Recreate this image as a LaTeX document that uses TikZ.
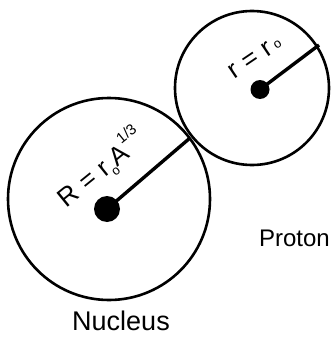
\documentclass[tikz,border=0pt]{standalone}
\usepackage{fontspec}
\setmainfont{Liberation Sans}
\begin{document}
\begin{tikzpicture}[x=1pt,y=-1pt,
  ring/.style={line width=2.6pt},
  spoke/.style={line width=3.4pt},
  dot/.style={circle,fill=black,inner sep=0pt},
  lbl/.style={font=\fontsize{26}{30}\selectfont, inner sep=0pt}]
\useasboundingbox (0,0) rectangle (330,337);
\coordinate (bigc) at (109,199);
\coordinate (smallc) at (252,88);
\draw[ring] (bigc) circle[radius=101pt];
\draw[ring] (smallc) circle[radius=77pt];
\node[dot,minimum size=26pt] (nuc) at (107,209) {};
\node[dot,minimum size=19pt] (pro) at (260,89.5) {};
\coordinate (touch) at (190,138);
\coordinate (edge) at (319,45);
\draw[spoke] (nuc.center) -- (touch);
\draw[spoke] (pro.center) -- (edge);
\node[lbl, anchor=base west, rotate=39] (Rlbl) at (66,209)
  {R\hspace{1pt} = \hspace{1pt}r\raisebox{-0.22em}{\fontsize{13}{13}\selectfont o}A\raisebox{0.6em}{\fontsize{15}{15}\selectfont 1/3}};
\node[lbl, anchor=base west, rotate=34] (rlbl) at (234,80)
  {r\hspace{1pt} = \hspace{1pt}r\hspace{3pt}\raisebox{0.05em}{\fontsize{13}{13}\selectfont o}};
\node[lbl, anchor=base, font=\fontsize{27}{31}\selectfont] (nlbl) at (121,330) {Nucleus};
\node[lbl, anchor=base east, font=\fontsize{24}{28}\selectfont] (plbl) at (330,246) {Proton};
\end{tikzpicture}
\end{document}
